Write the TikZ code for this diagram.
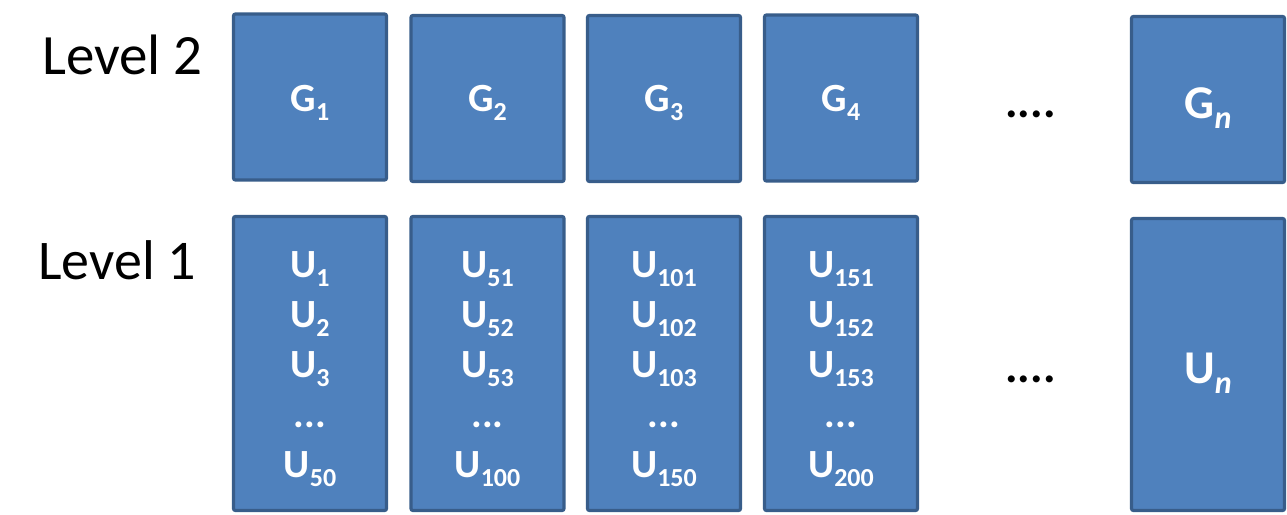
\documentclass[tikz,border=0pt]{standalone}
\usepackage{fontspec}
\setmainfont{Carlito}
\definecolor{boxfill}{HTML}{4F81BD}
\definecolor{boxline}{HTML}{385D8A}
\newcommand\sbs[1]{\raisebox{-9pt}{\fontsize{26}{26}\selectfont #1}}
\newcommand\sbn[1]{\raisebox{-10pt}{\fontsize{32}{32}\selectfont\itshape #1}}
\tikzset{
  gbox/.style={draw=boxline, fill=boxfill, line width=3.2pt, rounded corners=2pt,
    inner sep=0pt, minimum width=153pt, minimum height=166pt},
  ubox/.style={gbox, minimum height=294pt},
  btext/.style={text=white, font=\fontsize{40}{40}\selectfont\bfseries, inner sep=0pt, anchor=base},
  bigtext/.style={text=white, font=\fontsize{47}{47}\selectfont\bfseries, inner sep=0pt, anchor=base},
  lvl/.style={font=\fontsize{57}{57}\selectfont, inner sep=0pt, anchor=base west},
  dots/.style={font=\fontsize{47}{47}\selectfont\bfseries, inner sep=0pt, anchor=base}
}
\begin{document}
\begin{tikzpicture}[x=1pt,y=-1pt]
\useasboundingbox (0,0) rectangle (1287,514);
% level labels
\node[lvl] (lv2) at (42,74) {Level 2};
\node[lvl, font=\fontsize{56}{56}\selectfont] (lv1) at (38,279) {Level 1};
% level 2 boxes
\foreach \cx/\cy/\k [count=\i] in {310/97/1, 487.5/98.5/2, 664/98.5/3, 841/98/4} {
  \node[gbox] (G\i) at (\cx,\cy) {};
  \node[btext] (G\i t) at (\cx,111) {G\sbs{\k}};
}
\node[gbox] (Gn) at (1208,99.5) {};
\node[bigtext] (Gnt) at (1208,118) {G\sbn{n}};
\node[dots] (d2) at (1030.5,117.5) {....};
% level 1 boxes
\foreach \cx/\a/\b/\c/\z [count=\i] in {310/1/2/3/50, 487.5/51/52/53/100, 664/101/102/103/150, 841/151/152/153/200} {
  \node[ubox] (U\i) at (\cx,363.5) {};
  \node[btext] (U\i a) at (\cx,277) {U\sbs{\a}};
  \node[btext] (U\i b) at (\cx,327) {U\sbs{\b}};
  \node[btext] (U\i c) at (\cx,377) {U\sbs{\c}};
  \node[btext] (U\i d) at (\cx,427) {...};
  \node[btext] (U\i e) at (\cx,477) {U\sbs{\z}};
}
\node[ubox, minimum height=292pt] (Un) at (1208,364.5) {};
\node[bigtext] (Unt) at (1208,383) {U\sbn{n}};
\node[dots] (d1) at (1030.5,382.5) {....};
\end{tikzpicture}
\end{document}
